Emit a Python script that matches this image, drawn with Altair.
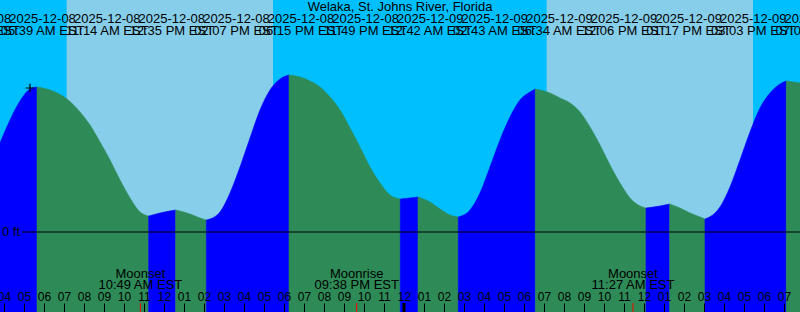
import altair as alt
import pandas as pd
from datetime import datetime

FONT = "Liberation Sans"

station = ["Welaka, St. Johns River, Florida"]

# tide events (time, kind)
event_times = [
    "2025-12-08T01:58", "2025-12-08T05:39", "2025-12-08T11:14", "2025-12-08T12:35",
    "2025-12-08T14:07", "2025-12-08T18:15", "2025-12-08T23:49", "2025-12-09T00:42",
    "2025-12-09T02:43", "2025-12-09T06:34", "2025-12-09T12:06", "2025-12-09T13:17",
    "2025-12-09T15:03", "2025-12-09T19:07",
]
event_kinds = ["L", "H", "L", "H", "L", "H", "L", "H", "L", "H", "L", "H", "L", "H"]

# tide curve (feet)
curve_times = [
    "2025-12-08T03:48", "2025-12-08T04:18", "2025-12-08T04:48", "2025-12-08T05:18",
    "2025-12-08T05:39", "2025-12-08T06:18", "2025-12-08T07:09", "2025-12-08T07:48",
    "2025-12-08T08:18", "2025-12-08T08:48", "2025-12-08T09:18", "2025-12-08T09:48",
    "2025-12-08T10:18", "2025-12-08T10:48", "2025-12-08T11:14", "2025-12-08T11:48",
    "2025-12-08T12:35", "2025-12-08T13:18", "2025-12-08T13:48", "2025-12-08T14:07",
    "2025-12-08T14:18", "2025-12-08T14:48", "2025-12-08T15:18", "2025-12-08T15:48",
    "2025-12-08T16:18", "2025-12-08T16:48", "2025-12-08T17:18", "2025-12-08T17:48",
    "2025-12-08T18:15", "2025-12-08T18:48", "2025-12-08T19:18", "2025-12-08T19:48",
    "2025-12-08T20:18", "2025-12-08T20:48", "2025-12-08T21:18", "2025-12-08T21:48",
    "2025-12-08T22:18", "2025-12-08T22:48", "2025-12-08T23:18", "2025-12-08T23:49",
    "2025-12-09T00:18", "2025-12-09T00:42", "2025-12-09T01:18", "2025-12-09T01:48",
    "2025-12-09T02:18", "2025-12-09T02:43", "2025-12-09T03:18", "2025-12-09T03:48",
    "2025-12-09T04:18", "2025-12-09T04:48", "2025-12-09T05:18", "2025-12-09T05:48",
    "2025-12-09T06:18", "2025-12-09T06:34", "2025-12-09T07:18", "2025-12-09T07:48",
    "2025-12-09T08:18", "2025-12-09T08:48", "2025-12-09T09:18", "2025-12-09T09:48",
    "2025-12-09T10:18", "2025-12-09T10:48", "2025-12-09T11:18", "2025-12-09T11:48",
    "2025-12-09T12:06", "2025-12-09T12:48", "2025-12-09T13:17", "2025-12-09T13:48",
    "2025-12-09T14:18", "2025-12-09T14:48", "2025-12-09T15:03", "2025-12-09T15:33",
    "2025-12-09T15:48", "2025-12-09T16:18", "2025-12-09T16:48", "2025-12-09T17:18",
    "2025-12-09T17:48", "2025-12-09T18:18", "2025-12-09T18:48", "2025-12-09T19:07",
    "2025-12-09T19:48",
]
curve_heights = [
    0.89, 1.12, 1.31, 1.43,
    1.45, 1.42, 1.33, 1.20,
    1.07, 0.90, 0.72, 0.52,
    0.34, 0.20, 0.16, 0.19,
    0.22, 0.18, 0.14, 0.12,
    0.13, 0.20, 0.39, 0.65,
    0.94, 1.22, 1.42, 1.53,
    1.57, 1.55, 1.51, 1.45,
    1.35, 1.22, 1.04, 0.85,
    0.65, 0.49, 0.37, 0.33,
    0.34, 0.35, 0.30, 0.23,
    0.17, 0.15, 0.22, 0.39,
    0.65, 0.92, 1.15, 1.32,
    1.40, 1.43, 1.39, 1.34,
    1.29, 1.20, 1.05, 0.87,
    0.67, 0.49, 0.34, 0.26,
    0.24, 0.26, 0.28, 0.24,
    0.19, 0.15, 0.13, 0.19,
    0.25, 0.45, 0.72, 1.00,
    1.24, 1.39, 1.48, 1.51,
    1.49,
]

sun_rise = ["2025-12-08T07:08", "2025-12-09T07:08"]
sun_set = ["2025-12-08T17:27", "2025-12-09T17:27"]

moon_times = ["2025-12-08T10:49", "2025-12-08T21:38", "2025-12-09T11:27"]
moon_events = ["Moonset", "Moonrise", "Moonset"]

midnight = ["2025-12-09T00:00"]
now_time = ["2025-12-08T05:18"]
now_height = [1.44]
zero_level = [0.0]
zero_label = ["0 ft"]

view_start = "2025-12-08T03:48"
view_end = "2025-12-09T19:48"
hour_ticks = list(range(4, 45))   # hours since 2025-12-08 00:00

# ---------- helpers ----------
ORIGIN = datetime(2025, 12, 8)


def hrs(s):
    return (datetime.fromisoformat(s) - ORIGIN).total_seconds() / 3600.0


# ---------- tables ----------
ev = [hrs(s) for s in event_times]
ct = [hrs(s) for s in curve_times]
rows = []
for k in range(len(ev) + 1):
    lo = ev[k - 1] if k > 0 else -1e9
    hi = ev[k] if k < len(ev) else 1e9
    if k < len(ev):
        d = "rising" if event_kinds[k] == "H" else "falling"
    else:
        d = "falling" if event_kinds[-1] == "H" else "rising"
    pts = [(t, h) for t, h in zip(ct, curve_heights) if lo - 1e-6 <= t <= hi + 1e-6]
    if len(pts) < 2:
        continue
    for t, h in pts:
        rows.append({"t": t, "h": h, "dir": d, "seg": k})
curve_df = pd.DataFrame(rows)

evd = [datetime.fromisoformat(s) for s in event_times]
label_df = pd.DataFrame({
    "i": list(range(len(event_times))),
    "date": [t.strftime("%Y-%m-%d") for t in evd],
    "time": [t.strftime("%I:%M %p") + " EST" for t in evd],
})
sun_df = pd.DataFrame({"rise": [hrs(s) for s in sun_rise], "set": [hrs(s) for s in sun_set]})
moon_df = pd.DataFrame({
    "t": [hrs(s) for s in moon_times],
    "ev": moon_events,
    "lab": [datetime.fromisoformat(s).strftime("%I:%M %p") + " EST" for s in moon_times],
})
mid_df = pd.DataFrame({"t": [hrs(s) for s in midnight]})
now_df = pd.DataFrame({"t": [hrs(s) for s in now_time], "h": now_height})
zero_df = pd.DataFrame({"level": zero_level, "lab": zero_label})
title_df = pd.DataFrame({"name": station})

# ---------- scales ----------
xs = alt.Scale(domain=[hrs(view_start), hrs(view_end)], nice=False, zero=False)
ys = alt.Scale(domain=[-0.8, 2.32], nice=False, zero=False)
label_scale = alt.Scale(domain=[0.3406, 12.724], nice=False, zero=False)

hour_axis = alt.Axis(orient="top", offset=-312, values=hour_ticks,
                     labelExpr="(datum.value % 12 == 0) ? '12' : ((datum.value % 12 < 10 ? '0' : '') + (datum.value % 12))",
                     tickSize=9, tickColor="black", tickWidth=1,
                     labelColor="black", labelFont=FONT, labelFontSize=12,
                     labelPadding=0, labelOverlap=False, labelFlush=False, labelBound=False,
                     domain=False, grid=False, title=None, zindex=1)

day = alt.Chart(sun_df).mark_rect(color="#87CEEB").encode(
    x=alt.X("rise:Q", scale=xs, axis=None), x2="set:Q",
    y=alt.value(0), y2=alt.value(312))

water = alt.Chart(curve_df).mark_area(interpolate="monotone", strokeWidth=0.6).encode(
    x=alt.X("t:Q", scale=xs, axis=hour_axis),
    y=alt.Y("h:Q", scale=ys, axis=None, stack=None),
    y2=alt.value(312),
    color=alt.Color("dir:N", scale=alt.Scale(domain=["rising", "falling"],
                                             range=["#0000FF", "#2E8B57"]), legend=None),
    stroke=alt.Stroke("dir:N", scale=alt.Scale(domain=["rising", "falling"],
                                               range=["#0000FF", "#2E8B57"]), legend=None),
    detail="seg:N")

zero_rule = alt.Chart(zero_df).mark_rule(color="black", strokeWidth=1).encode(
    x=alt.value(22), x2=alt.value(800), y=alt.Y("level:Q", scale=ys, axis=None))

zero_text = alt.Chart(zero_df).mark_text(align="right", baseline="middle", font=FONT,
                                         fontSize=13, color="black").encode(
    x=alt.value(20), y=alt.Y("level:Q", scale=ys, axis=None), text="lab:N")

now_mark = alt.Chart(now_df).mark_point(shape="M-1,0L1,0M0,-1L0,1", size=70, filled=False,
                                        stroke="black", strokeWidth=1.2, opacity=1).encode(
    x=alt.X("t:Q", scale=xs, axis=None), y=alt.Y("h:Q", scale=ys, axis=None))

date_text = alt.Chart(label_df).mark_text(font=FONT, fontSize=13, color="black",
                                          baseline="middle", align="center").encode(
    x=alt.X("i:Q", scale=label_scale, axis=None), y=alt.value(18.5), text="date:N")
time_text = alt.Chart(label_df).mark_text(font=FONT, fontSize=13, color="black",
                                          baseline="middle", align="center").encode(
    x=alt.X("i:Q", scale=label_scale, axis=None), y=alt.value(31), text="time:N")

title = alt.Chart(title_df).mark_text(font=FONT, fontSize=13, color="black",
                                      baseline="middle", align="center").encode(
    x=alt.value(400), y=alt.value(7), text="name:N")

moon_tick = alt.Chart(moon_df).mark_rule(color="red", strokeWidth=1).encode(
    x=alt.X("t:Q", scale=xs, axis=None), y=alt.value(303), y2=alt.value(312))
mid_tick = alt.Chart(mid_df).mark_rule(color="black", strokeWidth=3).encode(
    x=alt.X("t:Q", scale=xs, axis=None), y=alt.value(303), y2=alt.value(312))
moon_name = alt.Chart(moon_df).mark_text(font=FONT, fontSize=13, color="black",
                                         baseline="middle", align="center").encode(
    x=alt.X("t:Q", scale=xs, axis=None), y=alt.value(273.5), text="ev:N")
moon_lab = alt.Chart(moon_df).mark_text(font=FONT, fontSize=13, color="black",
                                        baseline="middle", align="center").encode(
    x=alt.X("t:Q", scale=xs, axis=None), y=alt.value(285), text="lab:N")

chart = alt.layer(
    day, water, zero_rule, zero_text, now_mark, date_text, time_text, title,
    moon_tick, mid_tick, moon_name, moon_lab
).resolve_scale(x="independent").properties(
    width=800, height=312, autosize="none", padding=0, background="#00BFFF"
).configure_view(stroke=None)

chart.save("out.html", embed_options={"renderer": "svg", "actions": False})
